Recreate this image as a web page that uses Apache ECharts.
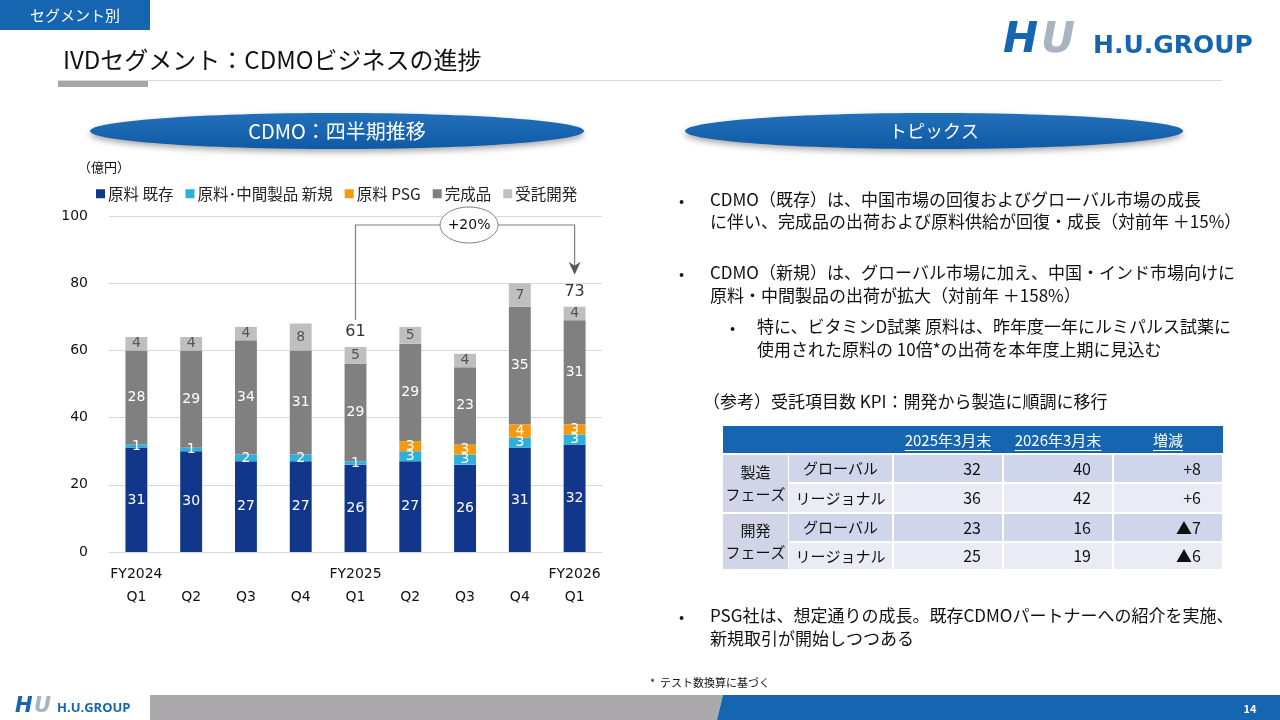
<!DOCTYPE html>
<html>
<head>
<meta charset="utf-8">
<script src="https://cdn.jsdelivr.net/npm/echarts@6/dist/echarts.min.js"></script>
<style>
  html, body { margin: 0; padding: 0; background: #fff; }
  #main { width: 1280px; height: 720px; }
</style>
</head>
<body>
<div id="main"></div>
<script>
// ---- chart data (億円) ----
const categories = ['FY2024 Q1', 'FY2024 Q2', 'FY2024 Q3', 'FY2024 Q4', 'FY2025 Q1', 'FY2025 Q2', 'FY2025 Q3', 'FY2025 Q4', 'FY2026 Q1'];
const fiscalYears = ['FY2024', '', '', '', 'FY2025', '', '', '', 'FY2026'];
const quarters = ['Q1', 'Q2', 'Q3', 'Q4', 'Q1', 'Q2', 'Q3', 'Q4', 'Q1'];

const rawExisting = [31, 30, 27, 27, 26, 27, 26, 31, 32];
const rawIntermediateNew = [1, 1, 2, 2, 1, 3, 3, 3, 3];
const rawPSG = [0, 0, 0, 0, 0, 3, 3, 4, 3];
const finishedGoods = [28, 29, 34, 31, 29, 29, 23, 35, 31];
const contractDev = [4, 4, 4, 8, 5, 5, 4, 7, 4];

const totalShownAt = [4, 8];
const growthText = '+20%';

// ---- KPI table ----
const kpiHeaders = ['2025年3月末', '2026年3月末', '増減'];
const kpiPhases = [['製造', 'フェーズ'], ['開発', 'フェーズ']];
const kpiRegions = ['グローバル', 'リージョナル', 'グローバル', 'リージョナル'];
const kpiMar2025 = [32, 36, 23, 25];
const kpiMar2026 = [40, 42, 16, 19];
const kpiChange = ['+8', '+6', '▲7', '▲6'];

// ---- topics text ----
const topic1 = ['CDMO（既存）は、中国市場の回復およびグローバル市場の成長', 'に伴い、完成品の出荷および原料供給が回復・成長（対前年 ＋15%）'];
const topic2 = ['CDMO（新規）は、グローバル市場に加え、中国・インド市場向けに', '原料・中間製品の出荷が拡大（対前年 ＋158%）'];
const topic2sub = ['特に、ビタミンD試薬 原料は、昨年度一年にルミパルス試薬に', '使用された原料の 10倍*の出荷を本年度上期に見込む'];
const kpiTitle = '（参考）受託項目数 KPI：開発から製造に順調に移行';
const topic3 = ['PSG社は、想定通りの成長。既存CDMOパートナーへの紹介を実施、', '新規取引が開始しつつある'];

const totals = categories.map((c, i) =>
  rawExisting[i] + rawIntermediateNew[i] + rawPSG[i] + finishedGoods[i] + contractDev[i]);

const JP = '"Noto Sans CJK JP", sans-serif';
const NUM = '"DejaVu Sans", "Noto Sans CJK JP", sans-serif';
const BLUE = '#1565B0';

const chart = echarts.init(document.getElementById('main'));

function barSerie(name, data, color, labelColor) {
  return {
    name: name,
    type: 'bar',
    stack: 'cdmo',
    barWidth: '40%',
    data: data,
    itemStyle: { color: color },
    label: {
      show: true,
      position: 'inside',
      color: labelColor,
      fontFamily: NUM,
      fontSize: 14,
      formatter: function (p) { return p.value ? String(p.value) : ''; }
    }
  };
}

chart.setOption({
  animation: false,
  textStyle: { fontFamily: JP },
  grid: { left: 109, right: 678, top: 216, bottom: 168 },
  legend: {
    left: 91,
    top: 181,
    itemWidth: 9,
    itemHeight: 9,
    itemGap: 12,
    icon: 'rect',
    data: ['原料 既存', '原料･中間製品 新規', '原料 PSG', '完成品', '受託開発'],
    textStyle: { fontFamily: JP, fontSize: 15.5, color: '#222', padding: [0, 0, 0, -2] }
  },
  xAxis: {
    type: 'category',
    data: categories,
    axisLine: { lineStyle: { color: '#D9D9D9' } },
    axisTick: { show: false },
    axisLabel: {
      interval: 0,
      margin: 11,
      lineHeight: 23,
      fontFamily: NUM,
      fontSize: 14,
      color: '#111',
      formatter: function (v, i) { return (fiscalYears[i] || ' ') + '\n' + quarters[i]; }
    }
  },
  yAxis: {
    type: 'value',
    min: 0,
    max: 100,
    interval: 20,
    axisLine: { show: false },
    axisTick: { show: false },
    splitLine: { lineStyle: { color: '#D9D9D9' } },
    axisLabel: { margin: 21, fontFamily: NUM, fontSize: 14, color: '#111' }
  },
  series: [
    barSerie('原料 既存', rawExisting, '#12378A', '#fff'),
    barSerie('原料･中間製品 新規', rawIntermediateNew, '#2EB0DA', '#fff'),
    barSerie('原料 PSG', rawPSG, '#F59A10', '#fff'),
    barSerie('完成品', finishedGoods, '#808080', '#fff'),
    barSerie('受託開発', contractDev, '#BFBFBF', '#555'),
    {
      name: 'total',
      type: 'scatter',
      symbolSize: 0,
      silent: true,
      data: totalShownAt.map(function (i) { return [i, totals[i]]; }),
      label: {
        show: true,
        position: 'top',
        distance: 7,
        fontFamily: NUM,
        fontSize: 16,
        color: '#000',
        formatter: function (p) { return String(p.value[1]); }
      }
    }
  ]
});

// ---- slide decoration ----
function txt(x, y, text, size, color, align, weight, family) {
  const font = (weight || 'normal') + ' ' + size + 'px ' + (family || JP);
  return {
    type: 'text', x: x, y: y, silent: true, z: 20,
    style: {
      text: text, fill: color || '#000', font: font,
      textAlign: align || 'left', textVerticalAlign: 'middle',
      align: align || 'left', verticalAlign: 'middle'
    }
  };
}
function rect(x, y, w, h, fill, z) {
  return { type: 'rect', silent: true, z: z || 5, shape: { x: x, y: y, width: w, height: h }, style: { fill: fill } };
}
function line(x1, y1, x2, y2, stroke, w) {
  return { type: 'line', silent: true, z: 6, shape: { x1: x1, y1: y1, x2: x2, y2: y2 }, style: { stroke: stroke, lineWidth: w || 1 } };
}
const measureCtx = document.createElement('canvas').getContext('2d');
function textWidth(text, font) { measureCtx.font = font; return measureCtx.measureText(text).width; }

const g = [];

// header
g.push(rect(0, 0, 150, 30, BLUE));
g.push(txt(75, 15, 'セグメント別', 15, '#fff', 'center'));
g.push(txt(63, 60, 'IVDセグメント：CDMOビジネスの進捗', 24, '#111'));
g.push(line(58, 80.5, 1222, 80.5, '#D9D9D9', 1));
g.push(rect(58, 81, 90, 6, '#A6A6A6'));

// top-right logo
g.push(txt(1003, 41, 'H', 42, BLUE, 'left', 'italic 900', '"DejaVu Sans", sans-serif'));
g.push(txt(1041, 41, 'U', 42, '#A9B3C2', 'left', 'italic 900', '"DejaVu Sans", sans-serif'));
g.push(txt(1093, 46, 'H.U.GROUP', 25, BLUE, 'left', 'bold', '"DejaVu Sans", sans-serif'));

// pill headers
function pill(cx, cy, rx, ry, label, size) {
  g.push({
    type: 'ellipse', silent: true, z: 5,
    shape: { cx: cx, cy: cy, rx: rx, ry: ry },
    style: {
      fill: new echarts.graphic.LinearGradient(0, 0, 0, 1, [
        { offset: 0, color: '#2370BA' }, { offset: 1, color: '#0F5AA6' }
      ]),
      shadowBlur: 6, shadowOffsetY: 3, shadowColor: 'rgba(0,0,0,0.35)'
    }
  });
  g.push(txt(cx, cy, label, size, '#fff', 'center'));
}
pill(337, 131, 247, 18, 'CDMO：四半期推移', 20);
pill(934, 131, 249, 18, 'トピックス', 18);

// unit label
g.push(txt(78, 167, '（億円）', 13, '#111'));

// topics
const TS = 17;
function bullet(x, y) { g.push(txt(x, y, '•', 15, '#111')); }
bullet(679, 200);
g.push(txt(710, 200, topic1[0], TS, '#111'));
g.push(txt(710, 222, topic1[1], TS, '#111'));
bullet(679, 273);
g.push(txt(710, 273, topic2[0], TS, '#111'));
g.push(txt(710, 296, topic2[1], TS, '#111'));
bullet(730, 327);
g.push(txt(757, 327, topic2sub[0], TS, '#111'));
g.push(txt(757, 350, topic2sub[1], TS, '#111'));
g.push(txt(703, 402, kpiTitle, TS, '#111'));
bullet(679, 616);
g.push(txt(710, 616, topic3[0], TS, '#111'));
g.push(txt(710, 639, topic3[1], TS, '#111'));

// KPI table
const colX = [723, 788, 893, 1003, 1113, 1223];
const rowY = [426, 455, 484, 514, 543, 571];
const DARK = '#CFD5EA', LIGHT = '#E9EBF5';
g.push(rect(colX[0], rowY[0], colX[5] - colX[0], rowY[1] - rowY[0] - 2, BLUE));
const hdrFont = 'normal 15px ' + JP;
kpiHeaders.forEach(function (h, k) {
  const cx = (colX[k + 2] + colX[k + 3]) / 2;
  const w = textWidth(h, hdrFont);
  g.push(txt(cx, 440, h, 15, '#fff', 'center'));
  g.push(line(cx - w / 2, 450.5, cx + w / 2, 450.5, '#fff', 1));
});
for (let r = 0; r < 4; r++) {
  const y0 = rowY[r + 1], y1 = rowY[r + 2] - 2;
  const fill = r % 2 === 0 ? DARK : LIGHT;
  for (let c = 1; c < 5; c++) {
    g.push(rect(colX[c] + 1, y0, colX[c + 1] - colX[c] - 2, y1 - y0, fill));
  }
  const cy = (y0 + y1) / 2;
  g.push(txt((colX[1] + colX[2]) / 2, cy, kpiRegions[r], 15, '#111', 'center'));
  g.push(txt(colX[3] - 22, cy, String(kpiMar2025[r]), 16, '#111', 'right'));
  g.push(txt(colX[4] - 22, cy, String(kpiMar2026[r]), 16, '#111', 'right'));
  g.push(txt(colX[5] - 22, cy, kpiChange[r], 16, '#111', 'right'));
}
kpiPhases.forEach(function (p, k) {
  const y0 = rowY[1 + k * 2], y1 = rowY[3 + k * 2] - 2;
  g.push(rect(colX[0], y0, colX[1] - colX[0], y1 - y0, '#D0D6E8'));
  const cx = (colX[0] + colX[1]) / 2, cy = (y0 + y1) / 2;
  g.push(txt(cx, cy - 11, p[0], 15, '#111', 'center'));
  g.push(txt(cx, cy + 11, p[1], 15, '#111', 'center'));
});

// footnote + footer
g.push(txt(650, 683, '*  テスト数換算に基づく', 11, '#111'));
g.push({ type: 'polygon', silent: true, z: 5, shape: { points: [[150, 695], [723, 695], [717, 720], [150, 720]] }, style: { fill: '#AAA8AB' } });
g.push({ type: 'polygon', silent: true, z: 5, shape: { points: [[723, 695], [1280, 695], [1280, 720], [717, 720]] }, style: { fill: BLUE } });
g.push(txt(1250, 709, '14', 11, '#fff', 'center', 'bold'));
g.push(txt(15, 707, 'H', 21, BLUE, 'left', 'italic 900', '"DejaVu Sans", sans-serif'));
g.push(txt(34, 707, 'U', 21, '#A9B3C2', 'left', 'italic 900', '"DejaVu Sans", sans-serif'));
g.push(txt(57, 708, 'H.U.GROUP', 13, BLUE, 'left', 'bold', '"Open Sans", "DejaVu Sans", sans-serif'));

// growth annotation between the two highlighted totals
const pA = chart.convertToPixel({ gridIndex: 0 }, [totalShownAt[0], totals[totalShownAt[0]]]);
const pB = chart.convertToPixel({ gridIndex: 0 }, [totalShownAt[1], totals[totalShownAt[1]]]);
const topY = chart.convertToPixel({ gridIndex: 0 }, [0, 100])[1] + 9;
const tipY = pB[1] - 32;
g.push({
  type: 'polyline', silent: true, z: 10,
  shape: { points: [[pA[0], pA[1] - 27], [pA[0], topY], [pB[0], topY], [pB[0], tipY - 6]] },
  style: { stroke: '#7F7F7F', lineWidth: 1.2, fill: null }
});
g.push({
  type: 'polygon', silent: true, z: 11,
  shape: { points: [[pB[0], tipY], [pB[0] - 6, tipY - 13], [pB[0], tipY - 9], [pB[0] + 6, tipY - 13]] },
  style: { fill: '#595959' }
});
const ex = (pA[0] + pB[0]) / 2 + 4;
g.push({
  type: 'ellipse', silent: true, z: 12,
  shape: { cx: ex, cy: topY, rx: 29, ry: 18 },
  style: { fill: '#fff', stroke: '#7F7F7F', lineWidth: 1 }
});
g.push(txt(ex, topY, growthText, 14, '#111', 'center', 'normal', NUM));

chart.setOption({ graphic: { elements: g } });
</script>
</body>
</html>
